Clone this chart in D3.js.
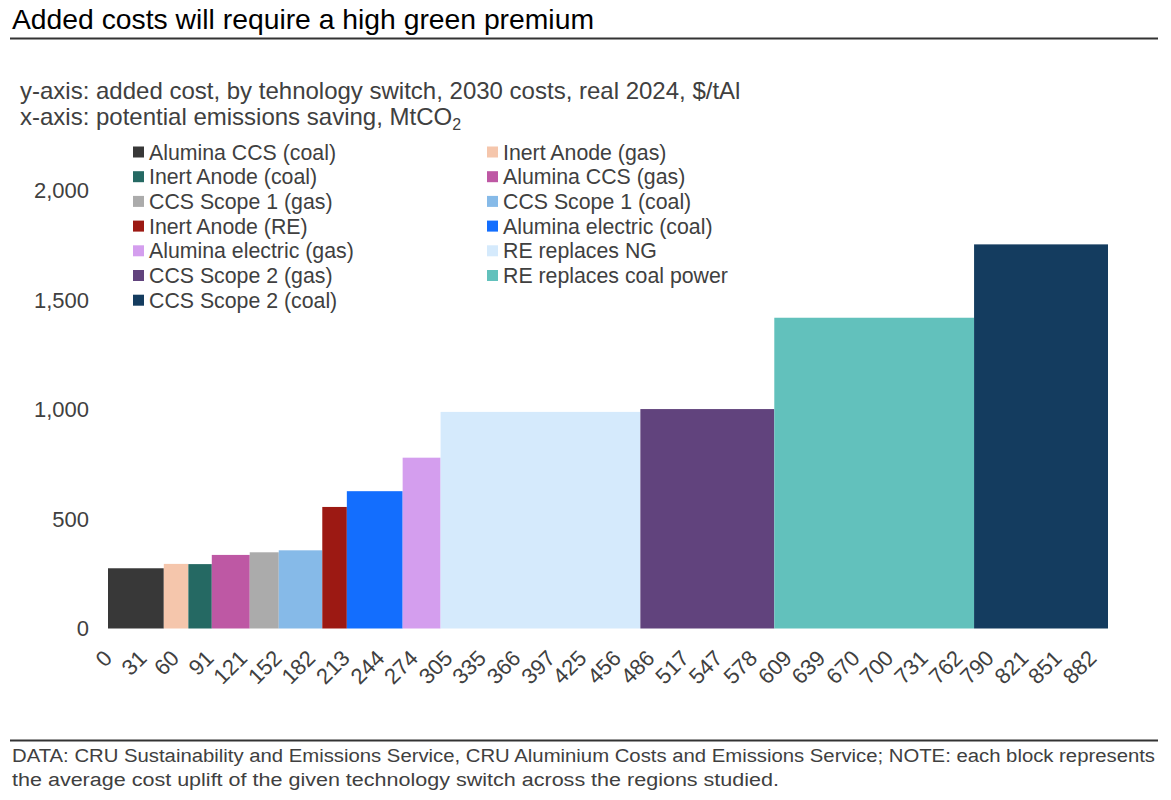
<html>
  <head>
    <script src="https://d3js.org/d3.v7.min.js"></script>
    <style>
      body { margin: 0; background: #fff; }
      text { font-family: "Liberation Sans", Arial, sans-serif; }
    </style>
  </head>
  <body>
    <svg id="chart" width="1171" height="800"></svg>
    <script>
      // technology switches, in the order they are stacked along x
      const techs = ["Alumina CCS (coal)", "Inert Anode (gas)", "Inert Anode (coal)", "Alumina CCS (gas)",
        "CCS Scope 1 (gas)", "CCS Scope 1 (coal)", "Inert Anode (RE)", "Alumina electric (coal)",
        "Alumina electric (gas)", "RE replaces NG", "CCS Scope 2 (gas)", "RE replaces coal power",
        "CCS Scope 2 (coal)"];
      // potential emissions saving per block (MtCO2) -> block widths
      const saving = [50, 22, 21, 34, 26, 39, 22, 50, 34, 179, 120, 179, 120];
      // added cost $/tAl -> block heights
      const cost = [275, 295, 294, 336, 348, 357, 555, 627, 780, 989, 1002, 1419, 1754];
      const colors = ["#383838", "#F5C6AC", "#256963", "#BE58A4", "#ABABAB", "#86BAE8", "#9C1913",
        "#136EFE", "#D49EEE", "#D5EAFC", "#61437D", "#62C1BC", "#143C5F"];
      const xTicks = [0, 31, 60, 91, 121, 152, 182, 213, 244, 274, 305, 335, 366, 397, 425, 456, 486,
        517, 547, 578, 609, 639, 670, 700, 731, 762, 790, 821, 851, 882];
      const yTicks = [0, 500, 1000, 1500, 2000];

      const svg = d3.select("#chart");
      const grey = "#404040";

      // cumulative start/end of each block
      let acc = 0;
      const blocks = techs.map((t, i) => {
        const b = { name: t, x0: acc, x1: acc + saving[i], cost: cost[i], color: colors[i] };
        acc += saving[i];
        return b;
      });

      const x = d3.scaleLinear().domain([0, acc]).range([108, 1108]);
      const y = d3.scaleLinear().domain([0, 2000]).range([628.5, 190.5]);

      // title + rule
      svg.append("text").attr("x", 12).attr("y", 29)
        .style("font-size", "28.3px").style("fill", "#000")
        .text("Added costs will require a high green premium");
      svg.append("line").attr("x1", 10).attr("x2", 1158).attr("y1", 38.5).attr("y2", 38.5)
        .style("stroke", "#333").style("stroke-width", 2);

      // subtitle
      svg.append("text").attr("x", 20).attr("y", 99)
        .style("font-size", "24px").style("fill", grey)
        .text("y-axis: added cost, by tehnology switch, 2030 costs, real 2024, $/tAl");
      const sub2 = svg.append("text").attr("x", 20).attr("y", 125)
        .style("font-size", "24px").style("fill", grey);
      sub2.append("tspan").text("x-axis: potential emissions saving, MtCO");
      sub2.append("tspan").attr("dy", 5).style("font-size", "16px").text("2");

      // blocks
      svg.append("g").selectAll("rect")
        .data(blocks)
        .join("rect")
        .attr("x", d => x(d.x0))
        .attr("width", d => x(d.x1) - x(d.x0))
        .attr("y", d => y(d.cost))
        .attr("height", d => y(0) - y(d.cost))
        .style("fill", d => d.color);

      // y axis (labels only)
      const yAxis = svg.append("g")
        .attr("transform", "translate(89,0)")
        .call(d3.axisLeft(y).tickValues(yTicks).tickSize(0).tickPadding(0).tickFormat(d3.format(",")));
      yAxis.select(".domain").remove();
      yAxis.selectAll("text").style("font-size", "22px").style("fill", grey)
        .style("font-family", "'Liberation Sans', Arial, sans-serif");

      // x axis, rotated labels
      const xAxis = svg.append("g")
        .attr("transform", "translate(0,628.5)")
        .call(d3.axisBottom(x).tickValues(xTicks).tickSize(0).tickFormat(d3.format("d")));
      xAxis.select(".domain").remove();
      xAxis.selectAll("text")
        .style("font-size", "22px").style("fill", grey)
        .style("font-family", "'Liberation Sans', Arial, sans-serif")
        .attr("text-anchor", "end")
        .attr("dy", 0)
        .attr("transform", "translate(5,31) rotate(-45)")
        .attr("y", 0);

      // legend, two columns row-major
      const legend = svg.append("g");
      const items = legend.selectAll("g")
        .data(blocks)
        .join("g")
        .attr("transform", (d, i) => `translate(${i % 2 ? 487 : 133},${152 + Math.floor(i / 2) * 24.7})`);
      items.append("rect").attr("x", 0).attr("y", -5.5).attr("width", 11).attr("height", 11)
        .style("fill", d => d.color);
      items.append("text").attr("x", 16).attr("y", 7.5)
        .style("font-size", "21.3px").style("fill", grey)
        .text(d => d.name);

      // footer
      svg.append("line").attr("x1", 10).attr("x2", 1158).attr("y1", 740.5).attr("y2", 740.5)
        .style("stroke", "#333").style("stroke-width", 2);
      const foot = [
        { t: "DATA: CRU Sustainability and Emissions Service, CRU Aluminium Costs and Emissions Service; NOTE: each block represents", w: 1143 },
        { t: "the average cost uplift of the given technology switch across the regions studied.", w: 767 }
      ];
      svg.append("g").selectAll("text")
        .data(foot)
        .join("text")
        .attr("x", 12)
        .attr("y", (d, i) => 762 + i * 24)
        .attr("textLength", d => d.w)
        .attr("lengthAdjust", "spacingAndGlyphs")
        .style("font-size", "18px").style("fill", grey)
        .text(d => d.t);
    </script>
  </body>
</html>
